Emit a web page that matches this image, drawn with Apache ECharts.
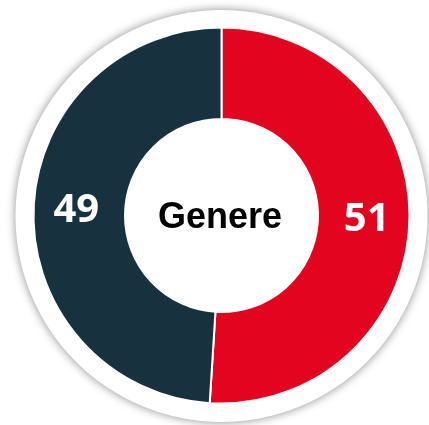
<!DOCTYPE html>
<html><head><meta charset="utf-8">
<script src="https://cdn.jsdelivr.net/npm/echarts@6/dist/echarts.min.js"></script>
<style>html,body{margin:0;padding:0;background:#fff}#c{width:429px;height:425px}</style>
</head><body><div id="c"></div>
<script>
const categories = ["Uomini", "Donne"];
const values = [51, 49];
const colors = ["#E30520", "#17313F"];
const centerTitle = "Genere";

const chart = echarts.init(document.getElementById('c'), null, {renderer: 'canvas'});
chart.setOption({
  animation: false,
  series: [
    {
      type: 'pie', silent: true, center: [221.5, 216], radius: [0, 206],
      label: {show: false}, labelLine: {show: false},
      itemStyle: {color: '#fff', shadowBlur: 10, shadowColor: 'rgba(0,0,0,0.45)'},
      data: [{value: 1, name: 'bg'}]
    },
    {
      type: 'pie', center: [221.5, 215.5], radius: [96.5, 188], startAngle: 90, clockwise: true,
      itemStyle: {borderColor: '#fff', borderWidth: 2},
      label: {show: true, position: 'inside', color: '#fff', fontFamily: 'Noto Sans', fontWeight: 'bold', fontSize: 40, formatter: '{c}'},
      labelLine: {show: false},
      data: categories.map((c, i) => ({name: c, value: values[i], itemStyle: {color: colors[i]}}))
    }
  ],
  graphic: [{
    type: 'text', z: 100, x: 220, y: 218,
    style: {text: centerTitle, fontFamily: 'Liberation Sans', fontWeight: 'bold', fontSize: 36, fill: '#000', align: 'center', verticalAlign: 'middle'}
  }]
});
</script></body></html>
